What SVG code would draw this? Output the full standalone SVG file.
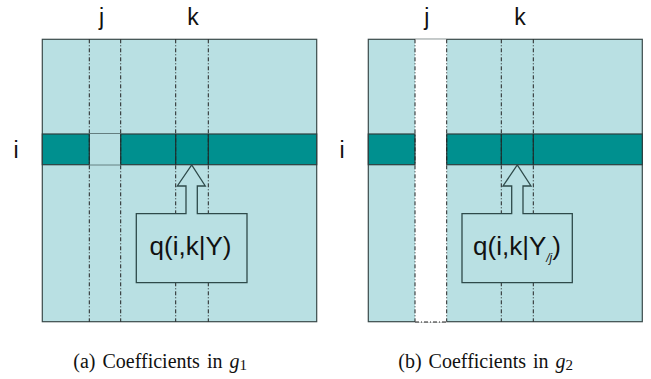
<svg xmlns="http://www.w3.org/2000/svg" width="651" height="379" viewBox="0 0 651 379">
<style>
.bg{fill:#b9e0e3;stroke:#3a4a4a;stroke-width:1.2}
.band{fill:#00908f;stroke:#2e3e3e;stroke-width:1.2}
.dash{stroke:#222;stroke-width:1;stroke-dasharray:4 2 1 2;fill:none}
.solid{stroke:#1e2e2e;stroke-width:1.2;fill:none}
.box{fill:#b9e0e3;stroke:#2e4a4a;stroke-width:1.3}
.lbl{font-family:"Liberation Sans",Arial,sans-serif;font-size:23px;fill:#111}
.q{font-family:"Liberation Sans",Arial,sans-serif;font-size:26px;fill:#111}
.cap{font-family:"Liberation Serif","Times New Roman",serif;font-size:20px;fill:#111;word-spacing:2px}
</style>
<g id="panel-a">
<rect class="bg" x="42.3" y="39.3" width="274.4" height="282.4"/>
<rect class="band" x="42.3" y="134" width="274.4" height="30.7"/>
<rect x="89.3" y="134" width="31.4" height="30.7" fill="#b9e0e3"/>
<g id="a-lines">
<line class="dash" x1="89.3" y1="39.3" x2="89.3" y2="321.7"/>
<line class="dash" x1="120.7" y1="39.3" x2="120.7" y2="321.7"/>
<line class="dash" x1="175.7" y1="39.3" x2="175.7" y2="321.7"/>
<line class="dash" x1="208.3" y1="39.3" x2="208.3" y2="321.7"/>
<line class="solid" x1="89.3" y1="134" x2="89.3" y2="164.7"/>
<line class="solid" x1="120.7" y1="134" x2="120.7" y2="164.7"/>
<line class="solid" x1="175.7" y1="134" x2="175.7" y2="164.7"/>
<line class="solid" x1="208.3" y1="134" x2="208.3" y2="164.7"/>
</g>
<g id="a-callout">
<path class="box" d="M136.3,213.7 H186 V186 H177.3 L191.7,165 L205.3,186 H197.3 V213.7 H247 V282.7 H136.3 Z"/>
<text class="q" x="190.5" y="255" text-anchor="middle">q(i,k|Y)</text>
</g>
<text class="lbl" x="101.5" y="25" text-anchor="middle">j</text>
<text class="lbl" x="193" y="25" text-anchor="middle">k</text>
<text class="lbl" x="16" y="158" text-anchor="middle">i</text>
<text class="cap" x="73.3" y="368">(a) Coefficients in <tspan font-style="italic">g</tspan><tspan font-size="15" dy="2">1</tspan></text>
</g>
<g id="panel-b">
<rect class="bg" x="368.3" y="39.3" width="274" height="282.4"/>
<rect x="415" y="39.3" width="31.7" height="283" fill="#ffffff"/>
<line class="dash" x1="415" y1="322" x2="446.7" y2="322"/>
<rect class="band" x="368.3" y="134" width="46.7" height="30.7"/>
<rect class="band" x="446.7" y="134" width="195.6" height="30.7"/>
<g id="b-lines">
<line class="dash" x1="415" y1="39.3" x2="415" y2="321.7"/>
<line class="dash" x1="446.7" y1="39.3" x2="446.7" y2="321.7"/>
<line class="dash" x1="501.3" y1="39.3" x2="501.3" y2="321.7"/>
<line class="dash" x1="533.3" y1="39.3" x2="533.3" y2="321.7"/>
<line class="solid" x1="501.3" y1="134" x2="501.3" y2="164.7"/>
<line class="solid" x1="533.3" y1="134" x2="533.3" y2="164.7"/>
</g>
<g id="b-callout">
<path class="box" d="M462,213.7 H511.7 V186 H503 L517.3,165 L531,186 H523 V213.7 H572.3 V282.7 H462 Z"/>
<text class="q" x="517" y="255" text-anchor="middle">q(i,k|Y<tspan font-size="12" font-style="italic" dy="7">/j</tspan><tspan dy="-7">)</tspan></text>
</g>
<text class="lbl" x="426.7" y="25" text-anchor="middle">j</text>
<text class="lbl" x="520" y="25" text-anchor="middle">k</text>
<text class="lbl" x="342" y="158" text-anchor="middle">i</text>
<text class="cap" x="398.3" y="368">(b) Coefficients in <tspan font-style="italic">g</tspan><tspan font-size="15" dy="2">2</tspan></text>
</g>
</svg>
